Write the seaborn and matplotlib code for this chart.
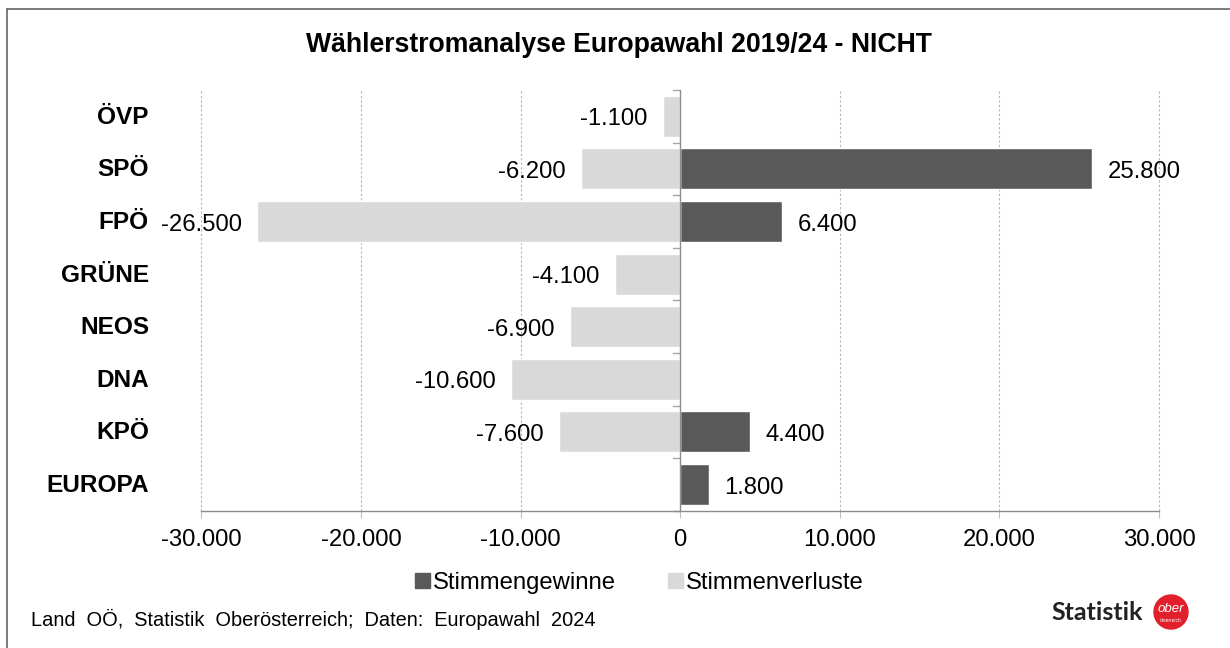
import pandas as pd
import numpy as np
import matplotlib
matplotlib.use('Agg')
import matplotlib.pyplot as plt
from matplotlib.lines import Line2D
from matplotlib.patches import Circle, Rectangle
from matplotlib.ticker import FuncFormatter
import seaborn as sns

# Data
parties = ['ÖVP', 'SPÖ', 'FPÖ', 'GRÜNE', 'NEOS', 'DNA', 'KPÖ', 'EUROPA']
gains = [np.nan, 25800, 6400, np.nan, np.nan, np.nan, 4400, 1800]
losses = [-1100, -6200, -26500, -4100, -6900, -10600, -7600, np.nan]
x_ticks = [-30000, -20000, -10000, 0, 10000, 20000, 30000]
series_names = ['Stimmengewinne', 'Stimmenverluste']
series_colors = ['#595959', '#d9d9d9']

sns.set_theme(style='white')
plt.rcParams['font.family'] = ['Liberation Sans', 'DejaVu Sans']
plt.rcParams['text.color'] = 'black'

df = pd.DataFrame({'Partei': parties, series_names[0]: gains, series_names[1]: losses})
long_df = df.melt(id_vars='Partei', var_name='Serie', value_name='Wert')


def de_num(v):
    return f'{int(v):,}'.replace(',', '.')


W, H = 1230, 648
fig = plt.figure(figsize=(W / 100, H / 100), dpi=100, facecolor='white')
ax = fig.add_axes([201.5 / W, 1 - 510.8 / H, (1159 - 201.5) / W, (510.8 - 90) / H])

sns.barplot(data=long_df, y='Partei', x='Wert', hue='Serie', order=parties, hue_order=series_names,
            palette=series_colors, dodge=False, width=0.78, saturation=1, ax=ax, legend=False)

ax.set_xlim(x_ticks[0], x_ticks[-1])
ax.set_ylim(len(parties) - 0.5, -0.5)
ax.set_xlabel('')
ax.set_ylabel('')
ax.set_xticks(x_ticks)
ax.xaxis.set_major_formatter(FuncFormatter(lambda v, p: de_num(v)))
ax.tick_params(axis='x', labelsize=17.2, labelcolor='black', length=5, width=0.8, color='#bfbfbf', pad=8.3, bottom=True)
ax.set_yticks([])
for s in ['top', 'right', 'left']:
    ax.spines[s].set_visible(False)
ax.spines['bottom'].set_color('#8c8c8c')
ax.spines['bottom'].set_linewidth(1)

# dotted grid, not clipped so the outer lines at +-30.000 stay visible
for t in x_ticks:
    if t != 0:
        ax.axvline(t, color='#b5b5b5', linestyle=(0, (2, 2)), linewidth=0.8, clip_on=False, zorder=0)

# zero line with the small category ticks to its left
ax.axvline(0, color='#8c8c8c', lw=1, zorder=5)
for i in range(len(parties) + 1):
    ax.plot([-440, 0], [i - 0.5, i - 0.5], color='#a6a6a6', lw=1, clip_on=False, zorder=1)

# party names sit in a right aligned column left of the plot
for i, p in enumerate(parties):
    fig.text(149 / W, 1 - (117.3 + i * 52.6) / H, p, ha='right', va='center', fontsize=17.6, fontweight='bold')

# value labels
for i, v in enumerate(gains):
    if not np.isnan(v):
        ax.annotate(de_num(v), (v, i), xytext=(11, -2.2), textcoords='offset points', ha='left', va='center',
                    fontsize=17.2)
for i, v in enumerate(losses):
    if not np.isnan(v):
        ax.annotate(de_num(v), (v, i), xytext=(-11, -2.2), textcoords='offset points', ha='right', va='center',
                    fontsize=17.2)

fig.text(618.5 / W, 1 - 45.5 / H, 'Wählerstromanalyse Europawahl 2019/24 - NICHT', ha='center', va='center',
         fontsize=19.2, fontweight='bold')

# legend
handles = [Rectangle((0, 0), 1, 1, color=c) for c in series_colors]
fig.legend(handles, series_names, loc='center', bbox_to_anchor=(639.5 / W, 1 - 583 / H), ncol=2, frameon=False,
           fontsize=17.2, handlelength=0.62, handleheight=0.62, handletextpad=0.12, columnspacing=2.2)

fig.text(31 / W, 1 - 619 / H, 'Land  OÖ,  Statistik  Oberösterreich;  Daten:  Europawahl  2024', ha='left',
         va='center', fontsize=14.4)

# logo
fig.text(1097.5 / W, 1 - 613 / H, 'Statistik', ha='center', va='center', fontsize=18, fontweight='bold',
         family=['Lato', 'DejaVu Sans'], color='#222222')
fig.add_artist(Circle((1171, H - 612), 17, transform=None, color='#e2202c'))
fig.text(1171 / W, 1 - 608.5 / H, 'ober', ha='center', va='center', fontsize=9.5, color='white', style='italic')
fig.text(1171 / W, 1 - 620 / H, 'österreich', ha='center', va='center', fontsize=3.5, color='white')

# outer frame: only the top and left edges show in the picture
fig.add_artist(Line2D([6.5 / W, 6.5 / W], [0, 1 - 8.5 / H], color='#595959', lw=1.1))
fig.add_artist(Line2D([6.5 / W, 1], [1 - 8.5 / H, 1 - 8.5 / H], color='#595959', lw=1.1))

fig.savefig('out.png', dpi=100)
